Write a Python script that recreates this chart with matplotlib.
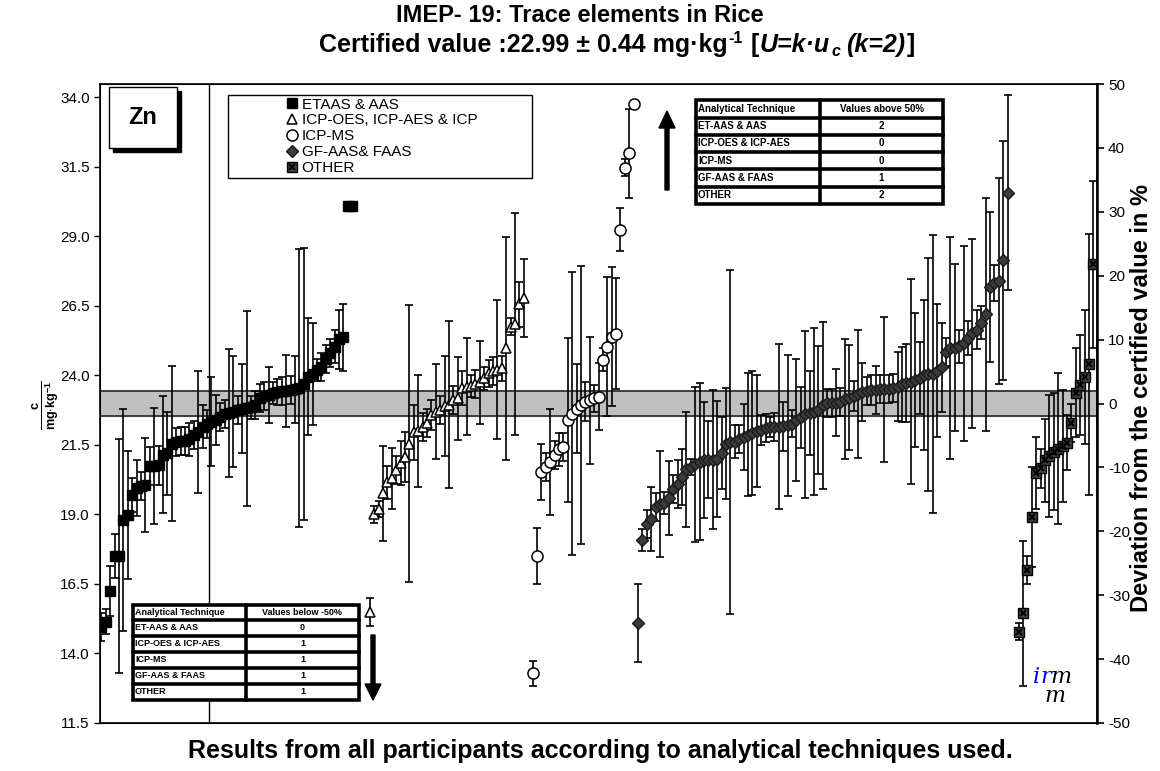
import numpy as np
import matplotlib
matplotlib.use('Agg')
import matplotlib.pyplot as plt
from matplotlib.lines import Line2D
from matplotlib.patches import Rectangle, FancyArrow

plt.rcParams['font.family'] = ['Liberation Sans', 'DejaVu Sans']
plt.rcParams['mathtext.fontset'] = 'custom'
plt.rcParams['mathtext.rm'] = 'Liberation Sans'
plt.rcParams['mathtext.bf'] = 'Liberation Sans:bold'
plt.rcParams['axes.unicode_minus'] = False

# certified value and expanded uncertainty
cert, unc = 22.99, 0.44

# results per technique group (sorted), start position on the participant axis
etaas_start = 0
etaas_val = [14.96, 15.14, 16.25, 17.5, 17.5, 18.8, 18.97, 19.7, 19.95, 20.02,
             20.05, 20.74, 20.74, 20.76, 21.15, 21.2, 21.55, 21.6, 21.63, 21.65,
             21.7, 21.85, 21.97, 22.15, 22.25, 22.33, 22.4, 22.5, 22.6, 22.64,
             22.7, 22.75, 22.8, 22.82, 22.85, 22.95, 23.2, 23.25, 23.3, 23.37,
             23.41, 23.43, 23.45, 23.48, 23.5, 23.55, 23.7, 23.95, 24.05, 24.2,
             24.3, 24.6, 24.8, 25.03, 25.3, 25.37, 30.1, 30.1]
etaas_err = [0.5, 0.45, 0.9, 0.8, 4.2, 4.0, 2.3, 0.6, 1.0, 0.5,
             1.7, 0.7, 2.1, 0.7, 2.1, 1.5, 2.8, 0.5, 0.5, 0.5,
             0.6, 0.5, 2.2, 0.77, 0.5, 1.6, 0.9, 0.5, 0.5, 2.3,
             2.0, 0.5, 1.6, 3.5, 0.4, 0.5, 0.5, 0.5, 1.0, 0.4,
             0.47, 0.5, 1.3, 0.5, 1.2, 5.0, 4.9, 2.1, 1.85, 0.4,
             0.5, 0.5, 0.5, 0.6, 1.07, 1.2, 0.0, 0.0]

icpoes_start = 61
icpoes_val = [15.48, 19.0, 19.2, 19.76, 20.15, 20.3, 20.6, 20.85, 21.07, 21.55,
              21.95, 22.0, 22.15, 22.3, 22.57, 22.7, 22.75, 22.9, 22.95, 23.11,
              23.17, 23.55, 23.6, 23.62, 23.7, 23.75, 23.89, 24.07, 24.15, 24.2,
              24.25, 24.97, 25.75, 25.85, 26.56, 26.79]
icpoes_err = [0.5, 0.3, 0.3, 1.7, 0.6, 1.1, 0.5, 0.8, 0.9, 5.0,
              1.0, 2.0, 0.5, 0.5, 0.55, 1.7, 0.5, 1.8, 3.0, 0.5,
              1.5, 0.6, 1.73, 0.4, 0.5, 1.5, 0.4, 0.5, 0.5, 2.5,
              0.45, 4.0, 0.3, 4.0, 0.8, 1.4]

icpms_start = 98
icpms_val = [13.29, 17.5, 20.53, 20.71, 20.89, 21.13, 21.34, 21.43, 22.39, 22.63,
             22.8, 22.95, 23.05, 23.1, 23.17, 23.23, 24.57, 25.03, 25.39, 25.5,
             29.25, 31.47, 32.0, 33.75]
icpms_err = [0.45, 1.0, 1.0, 0.5, 1.9, 0.5, 0.6, 0.5, 2.95, 5.1,
             1.6, 5.0, 0.7, 2.3, 0.5, 1.2, 0.4, 2.5, 2.5, 2.0,
             0.76, 0.3, 1.6, 0.1]

gfaas_start = 122
gfaas_val = [15.1, 18.08, 18.65, 18.82, 19.28, 19.38, 19.42, 19.6, 19.9, 20.1,
             20.35, 20.62, 20.7, 20.8, 20.9, 20.95, 20.97, 20.97, 21.0, 21.2,
             21.55, 21.6, 21.62, 21.7, 21.78, 21.87, 21.93, 22.0, 22.03, 22.1,
             22.14, 22.15, 22.16, 22.17, 22.2, 22.27, 22.4, 22.5, 22.6, 22.65,
             22.7, 22.75, 22.92, 23.0, 23.01, 23.02, 23.05, 23.15, 23.2, 23.26,
             23.33, 23.4, 23.44, 23.47, 23.49, 23.5, 23.5, 23.52, 23.56, 23.6,
             23.68, 23.73, 23.78, 23.84, 23.92, 24.02, 24.04, 24.06, 24.17, 24.3,
             24.85, 24.98, 25.0, 25.05, 25.15, 25.35, 25.52, 25.65, 25.9, 26.2,
             27.18, 27.33, 27.4, 28.14, 30.58]
gfaas_err = [1.4, 0.4, 0.5, 1.15, 0.5, 1.9, 0.4, 1.33, 0.5, 0.86,
             1.0, 2.07, 0.3, 2.8, 2.83, 2.08, 1.38, 2.5, 2.08, 1.3,
             2.0, 6.2, 0.6, 0.5, 1.18, 2.2, 2.23, 2.0, 0.54, 0.5,
             0.36, 0.5, 2.97, 0.88, 2.53, 0.5, 2.2, 1.1, 3.0, 1.5,
             3.0, 2.3, 3.0, 0.5, 0.5, 1.2, 0.5, 2.17, 1.9, 0.53,
             2.3, 1.03, 0.5, 0.55, 0.86, 0.5, 2.6, 0.5, 0.5, 1.25,
             1.35, 1.4, 3.7, 2.4, 1.3, 2.7, 4.2, 5.0, 2.4, 1.6,
             0.5, 4.0, 3.0, 0.6, 3.5, 0.6, 3.4, 0.7, 0.6, 4.2,
             2.7, 0.65, 3.7, 4.3, 3.5]

other_start = 208.5
other_val = [14.78, 15.44, 17.0, 18.92, 20.48, 20.66, 20.95, 21.1, 21.25, 21.37,
             21.46, 21.58, 22.29, 23.37, 23.65, 23.95, 24.4, 28.0]
other_err = [0.3, 2.6, 0.5, 1.8, 1.3, 0.7, 1.5, 2.2, 2.1, 2.7,
             2.0, 1.0, 0.7, 1.6, 1.8, 2.4, 4.7, 3.0]

legend_labels = ['ETAAS & AAS', 'ICP-OES, ICP-AES & ICP', 'ICP-MS', 'GF-AAS& FAAS', 'OTHER']
table_rows = ['ET-AAS & AAS', 'ICP-OES & ICP-AES', 'ICP-MS', 'GF-AAS & FAAS', 'OTHER']
above_counts = ['2', '0', '0', '1', '2']
below_counts = ['0', '1', '1', '1', '1']

W, H = 1160, 771
fig = plt.figure(figsize=(W / 100, H / 100), dpi=100)
ax = fig.add_axes([100 / W, 1 - 723 / H, 997 / W, 639 / H])

ax.axhspan(cert - unc, cert + unc, color='#c0c0c0', zorder=0)
ax.axhline(cert - unc, color='#333333', lw=1.3, zorder=1)
ax.axhline(cert + unc, color='#333333', lw=1.3, zorder=1)
ax.axvline(24.5, color='black', lw=1, zorder=1)

groups = [
    (etaas_start, etaas_val, etaas_err, dict(marker='s', mfc='black', mec='black', ms=6.5)),
    (icpoes_start, icpoes_val, icpoes_err, dict(marker='^', mfc='white', mec='black', ms=7.5, mew=1.1)),
    (icpms_start, icpms_val, icpms_err, dict(marker='o', mfc='white', mec='black', ms=8, mew=1.1)),
    (gfaas_start, gfaas_val, gfaas_err, dict(marker='D', mfc='#3a3a3a', mec='#1a1a1a', ms=6)),
    (other_start, other_val, other_err, dict(marker='s', mfc='#404040', mec='black', ms=6.5)),
]
for start, vals, errs, style in groups:
    x = start + np.arange(len(vals))
    ax.errorbar(x, vals, yerr=errs, fmt='none', ecolor='black', elinewidth=1.2,
                capsize=3, capthick=1.2, zorder=2)
    ax.plot(x, vals, ls='none', zorder=3, **style)
x_other = other_start + np.arange(len(other_val))
ax.plot(x_other, other_val, ls='none', marker='x', color='black', ms=5, mew=1.4, zorder=4)

ax.set_xlim(-0.3, 226.3)
ax.set_ylim(cert * 0.5, cert * 1.5)
yt = np.arange(11.5, 34.1, 2.5)
ax.set_yticks(yt)
ax.set_yticklabels([f'{v:.1f}' for v in yt], fontsize=11)
ax.set_xticks([])
ax.tick_params(axis='y', direction='out', length=4, width=1)
for s in ax.spines.values():
    s.set_linewidth(1.2)

ax2 = ax.twinx()
ax2.set_ylim(-50, 50)
ax2.set_yticks(np.arange(-50, 51, 10))
ax2.tick_params(axis='y', direction='out', length=5, width=1.2, labelsize=11, pad=3)
ax2.spines['right'].set_linewidth(1.8)

# overlay in pixel coordinates for boxes, tables, legend and arrows
ov = fig.add_axes([0, 0, 1, 1], zorder=10)
ov.set_xlim(0, W)
ov.set_ylim(H, 0)
ov.axis('off')
ov.patch.set_alpha(0)

ov.add_patch(Rectangle((228, 95), 304, 83, fc='white', ec='black', lw=1, zorder=0))
h_other = (Line2D([], [], ls='none', marker='s', mfc='#404040', mec='black', ms=6.5),
           Line2D([], [], ls='none', marker='x', color='black', ms=5, mew=1.4))
handles = [Line2D([], [], ls='none', **g[3]) for g in groups[:4]] + [h_other]
ov.legend(handles, legend_labels, loc='upper left', bbox_to_anchor=(284 / W, 1 - 96 / H),
          bbox_transform=fig.transFigure, frameon=False, fontsize=11, handlelength=0.8,
          handletextpad=0.25, labelspacing=0.12, borderpad=0.1, borderaxespad=0)

ov.add_patch(Rectangle((113, 91), 68, 61, fc='black', ec='black', lw=1))
ov.add_patch(Rectangle((109, 87), 68, 61, fc='white', ec='black', lw=1))
ov.text(143, 118, 'Zn', fontsize=17, fontweight='bold', ha='center', va='center')


def draw_table(x0, x1, xc, y0, rh, hh, head, rows, vals, fs):
    yb = y0 + hh + rh * len(rows)
    ov.add_patch(Rectangle((x0, y0), x1 - x0, yb - y0, fc='white', ec='black', lw=2.6))
    ov.plot([xc, xc], [y0, yb], color='black', lw=2.6)
    ys = [y0 + hh + rh * i for i in range(len(rows))]
    for y in ys:
        ov.plot([x0, x1], [y, y], color='black', lw=2.6)
    ov.text(x0 + 2, y0 + hh / 2, head[0], fontsize=fs, fontweight='bold', va='center', ha='left')
    ov.text((xc + x1) / 2, y0 + hh / 2, head[1], fontsize=fs, fontweight='bold', va='center', ha='center')
    for y, r, v in zip(ys, rows, vals):
        ov.text(x0 + 2, y + rh / 2, r, fontsize=fs, fontweight='bold', va='center', ha='left')
        ov.text((xc + x1) / 2, y + rh / 2, v, fontsize=fs, fontweight='bold', va='center', ha='center')


draw_table(696, 943, 820, 100, 17.3, 17.5, ['Analytical Technique', 'Values above 50%'],
           table_rows, above_counts, 7)
draw_table(133, 359, 246, 605, 15.9, 15, ['Analytical Technique', 'Values below -50%'],
           table_rows, below_counts, 6.5)

ov.add_patch(FancyArrow(667, 190, 0, -79, width=4, head_width=16, head_length=17,
                        length_includes_head=True, color='black'))
ov.add_patch(FancyArrow(373, 635, 0, 65, width=4, head_width=16, head_length=16,
                        length_includes_head=True, color='black'))

# irm logo
logo = dict(fontsize=16, style='italic', family='DejaVu Serif')
ov.text(1033, 683, 'i', color='blue', **logo)
ov.text(1040, 683, 'r', color='blue', **logo)
ov.text(1050, 683, 'm', color='black', **logo)
ov.text(1044, 702, 'm', color='black', **logo)

# titles and axis labels
fig.text(0.5, 1 - 16 / H, 'IMEP- 19: Trace elements in Rice', fontsize=17, fontweight='bold',
         ha='center', va='center')

# second title line, built from pieces (bold / bold italic, super- and subscript)
line2 = [('Certified value :22.99 ± 0.44 mg·kg', 'normal', 18, 0, 0),
         ('-1', 'normal', 11.5, 9, 1),
         ('[', 'normal', 18, 0, 7),
         ('U=k·u', 'italic', 18, 0, 1),
         ('c', 'italic', 11.5, -4, 2),
         ('(k=2)', 'italic', 18, 0, 6),
         (']', 'normal', 18, 0, 1)]
base_y = 52
parts = []
for txt, st, fs, dy, gap in line2:
    parts.append(ov.text(0, base_y - dy, txt, fontsize=fs, fontweight='bold', style=st,
                         va='baseline', ha='left'))
fig.canvas.draw()
r = fig.canvas.get_renderer()
widths = [p.get_window_extent(r).width for p in parts]
gaps = [g for _, _, _, _, g in line2]
total = sum(widths) + sum(gaps[1:])
x = 617 - total / 2
for i, p in enumerate(parts):
    if i > 0:
        x += gaps[i]
    p.set_x(x)
    x += widths[i]

fig.text(1141 / W, 1 - 398 / H, 'Deviation from the certified value in %', fontsize=17,
         fontweight='bold', rotation=90, ha='center', va='center')
fig.text(46 / W, 1 - 405 / H, r'$\frac{\mathbf{c}}{\mathbf{mg{\cdot}kg^{-1}}}$', fontsize=13,
         rotation=90, ha='center', va='center')
fig.text(600 / W, 1 - 751 / H, 'Results from all participants according to analytical techniques used.',
         fontsize=18, fontweight='bold', ha='center', va='center')

fig.savefig('out.png', dpi=100)
